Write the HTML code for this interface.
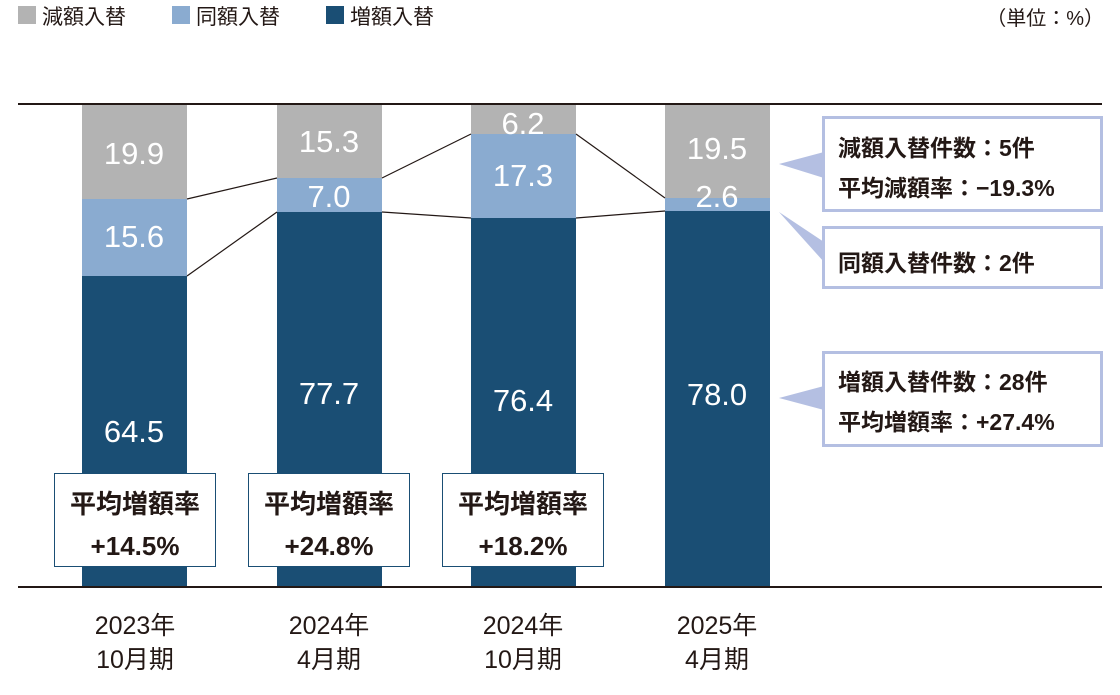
<!DOCTYPE html>
<html><head><meta charset="utf-8"><style>
body{margin:0;background:#fff;width:1120px;height:690px;overflow:hidden}
svg{font-family:"Liberation Sans","Noto Sans CJK JP",sans-serif}
</style></head><body>
<svg width="1120" height="690" viewBox="0 0 1120 690">
<rect x="18" y="6" width="18" height="18" fill="#b3b3b3"/>
<text x="42" y="24" font-size="21" fill="#231815">減額入替</text>
<rect x="172" y="6" width="18" height="18" fill="#8aabd0"/>
<text x="196" y="24" font-size="21" fill="#231815">同額入替</text>
<rect x="326" y="6" width="18" height="18" fill="#1a4e74"/>
<text x="350" y="24" font-size="21" fill="#231815">増額入替</text>
<text x="1104" y="25" font-size="20" fill="#231815" text-anchor="end">（単位：%）</text>

<g>
<rect x="82" y="104" width="105" height="95" fill="#b3b3b3"/>
<rect x="82" y="199" width="105" height="77" fill="#8aabd0"/>
<rect x="82" y="276" width="105" height="311" fill="#1a4e74"/>
<rect x="277" y="104" width="105" height="74" fill="#b3b3b3"/>
<rect x="277" y="178" width="105" height="34" fill="#8aabd0"/>
<rect x="277" y="212" width="105" height="375" fill="#1a4e74"/>
<rect x="471" y="104" width="105" height="30" fill="#b3b3b3"/>
<rect x="471" y="134" width="105" height="84" fill="#8aabd0"/>
<rect x="471" y="218" width="105" height="369" fill="#1a4e74"/>
<rect x="665" y="104" width="105" height="94" fill="#b3b3b3"/>
<rect x="665" y="198" width="105" height="13" fill="#8aabd0"/>
<rect x="665" y="211" width="105" height="376" fill="#1a4e74"/>
</g>
<g stroke="#231815" stroke-width="1.2">
<line x1="187" y1="199" x2="277" y2="178"/>
<line x1="187" y1="276" x2="277" y2="212"/>
<line x1="382" y1="178" x2="471" y2="134"/>
<line x1="382" y1="212" x2="471" y2="218"/>
<line x1="576" y1="134" x2="665" y2="198"/>
<line x1="576" y1="218" x2="665" y2="211"/>
</g>
<line x1="18" y1="104" x2="1102" y2="104" stroke="#231815" stroke-width="2"/>
<line x1="18" y1="587" x2="1102" y2="587" stroke="#231815" stroke-width="2"/>

<g font-size="31" fill="#fff" text-anchor="middle">
<text x="134" y="164">19.9</text><text x="134" y="247">15.6</text><text x="134" y="442">64.5</text>
<text x="329" y="152">15.3</text><text x="329" y="207">7.0</text><text x="329" y="404">77.7</text>
<text x="523" y="134">6.2</text><text x="523" y="186">17.3</text><text x="523" y="411">76.4</text>
<text x="717" y="159">19.5</text><text x="717" y="207">2.6</text><text x="717" y="405">78.0</text>
</g>

<g font-size="26" font-weight="bold" fill="#231815" text-anchor="middle">
<rect x="54.5" y="473.5" width="161" height="93" fill="#fff" stroke="#1a4e74"/>
<text x="135" y="513">平均増額率</text><text x="135" y="555">+14.5%</text>
<rect x="248.5" y="473.5" width="161" height="93" fill="#fff" stroke="#1a4e74"/>
<text x="329" y="513">平均増額率</text><text x="329" y="555">+24.8%</text>
<rect x="442.5" y="473.5" width="161" height="93" fill="#fff" stroke="#1a4e74"/>
<text x="523" y="513">平均増額率</text><text x="523" y="555">+18.2%</text>
</g>

<g font-size="25" fill="#231815" text-anchor="middle">
<text x="135" y="634">2023年</text><text x="135" y="668">10月期</text>
<text x="329" y="634">2024年</text><text x="329" y="668">4月期</text>
<text x="523" y="634">2024年</text><text x="523" y="668">10月期</text>
<text x="717" y="634">2025年</text><text x="717" y="668">4月期</text>
</g>

<g fill="#b4bfe2">
<polygon points="779,164 824,152 824,178"/>
<polygon points="779,212 824,242 824,262"/>
<polygon points="779,398 824,386 824,410"/>
</g>
<g fill="#fff" stroke="#b4bfe2" stroke-width="3">
<rect x="823.5" y="117.5" width="278" height="93"/>
<rect x="823.5" y="227.5" width="278" height="60"/>
<rect x="823.5" y="352.5" width="278" height="93"/>
</g>
<g font-size="23" font-weight="bold" fill="#231815">
<text x="838" y="156">減額入替件数：5件</text>
<text x="838" y="196">平均減額率：−19.3%</text>
<text x="838" y="271">同額入替件数：2件</text>
<text x="838" y="390">増額入替件数：28件</text>
<text x="838" y="430">平均増額率：+27.4%</text>
</g>
</svg>
</body></html>
